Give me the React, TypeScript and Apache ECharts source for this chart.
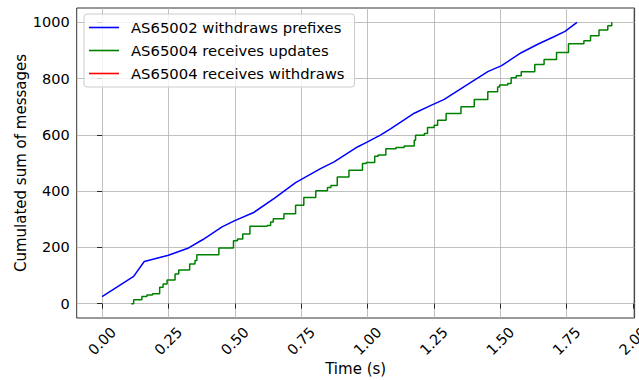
import React, { useEffect, useRef } from "react";
import * as echarts from "echarts";

const seriesNames = [
  "AS65002 withdraws prefixes",
  "AS65004 receives updates",
  "AS65004 receives withdraws",
];

const blueTime = [0, 0.119, 0.159, 0.25, 0.326, 0.38, 0.452, 0.5, 0.571, 0.65, 0.729, 0.823, 0.874, 0.962, 1.0, 1.05, 1.088, 1.176, 1.239, 1.289, 1.37, 1.453, 1.505, 1.579, 1.643, 1.7, 1.744, 1.789];
const blueValue = [25, 97, 150, 172, 198, 228, 273, 295, 324, 375, 430, 480, 504, 557, 575, 600, 622, 677, 705, 726, 775, 825, 846, 892, 923, 948, 968, 1000];

const greenTime = [0.11, 0.119, 0.15, 0.169, 0.19, 0.217, 0.23, 0.245, 0.275, 0.289, 0.33, 0.35, 0.357, 0.44, 0.495, 0.51, 0.53, 0.557, 0.622, 0.635, 0.645, 0.685, 0.729, 0.76, 0.805, 0.849, 0.862, 0.886, 0.93, 0.981, 0.995, 1.027, 1.04, 1.069, 1.107, 1.138, 1.176, 1.181, 1.214, 1.226, 1.251, 1.264, 1.296, 1.352, 1.402, 1.453, 1.49, 1.497, 1.528, 1.541, 1.56, 1.579, 1.63, 1.665, 1.712, 1.757, 1.815, 1.84, 1.872, 1.905, 1.92];
const greenValue = [0, 14, 25, 31, 35, 58, 70, 84, 105, 120, 141, 153, 174, 198, 224, 230, 248, 275, 278, 290, 302, 320, 350, 377, 401, 413, 420, 450, 474, 498, 502, 524, 528, 551, 555, 560, 581, 599, 605, 626, 634, 652, 676, 700, 726, 753, 770, 777, 783, 803, 810, 824, 850, 868, 893, 924, 935, 952, 973, 988, 1000];

const redTime: number[] = [];
const redValue: number[] = [];

const xTicks = [0, 0.25, 0.5, 0.75, 1.0, 1.25, 1.5, 1.75, 2.0];
const yTicks = [0, 200, 400, 600, 800, 1000];

const FONT = "DejaVu Sans";
const FS = 14.5;

const zip = (a: number[], b: number[]) => a.map((v, i) => [v, b[i]]);

export default function App() {
  const ref = useRef<HTMLDivElement>(null);
  useEffect(() => {
    if (!ref.current) return;
    const chart = echarts.init(ref.current, undefined, { renderer: "svg" });
    const axisCommon = {
      axisLine: { show: false },
      axisTick: { show: true, length: 5, lineStyle: { color: "#000", width: 0.8 } },
      splitLine: { show: true, lineStyle: { color: "#b0b0b0", width: 0.8 } },
      nameTextStyle: { fontFamily: FONT, fontSize: 15, color: "#000" },
      nameMoveOverlap: false,
    };
    chart.setOption({
      animation: false,
      backgroundColor: "#fff",
      grid: {
        left: 76.7,
        right: 4.4,
        top: 8,
        bottom: 62,
        containLabel: false,
        outerBoundsMode: "none",
        show: true,
        borderColor: "#000",
        borderWidth: 0.8,
        backgroundColor: "transparent",
      },
      legend: {
        left: 84,
        top: 14,
        orient: "vertical",
        data: seriesNames.map((n) => ({ name: n, icon: "rect" })),
        itemWidth: 30,
        itemHeight: 1.6,
        itemGap: 6,
        padding: [5, 10, 5, 5],
        backgroundColor: "rgba(255,255,255,0.8)",
        borderColor: "#cccccc",
        borderWidth: 1,
        borderRadius: 3,
        textStyle: {
          fontFamily: FONT,
          fontSize: 14.8,
          color: "#000",
          lineHeight: 17,
          padding: [0, 0, 0, 7],
        },
      },
      xAxis: {
        type: "value",
        min: -0.0955,
        max: 2.006,
        name: "Time (s)",
        nameLocation: "middle",
        nameGap: 43,
        ...axisCommon,
        axisTick: { ...axisCommon.axisTick, customValues: xTicks },
        axisLabel: {
          customValues: xTicks,
          rotate: 45,
          align: "center",
          verticalAlign: "middle",
          margin: 23,
          fontFamily: FONT,
          fontSize: FS,
          color: "#000",
          formatter: (v: number) => v.toFixed(2),
        },
      },
      yAxis: {
        type: "value",
        min: -51,
        max: 1051,
        name: "Cumulated sum of messages",
        nameLocation: "middle",
        nameGap: 48,
        ...axisCommon,
        axisTick: { ...axisCommon.axisTick, customValues: yTicks },
        axisLabel: {
          customValues: yTicks,
          margin: 7,
          fontFamily: FONT,
          fontSize: FS,
          color: "#000",
          formatter: (v: number) => String(v),
        },
      },
      series: [
        {
          name: seriesNames[0],
          type: "line",
          data: zip(blueTime, blueValue),
          symbol: "none",
          color: "#0000ff",
          lineStyle: { width: 1.5, color: "#0000ff" },
        },
        {
          name: seriesNames[1],
          type: "line",
          data: zip(greenTime, greenValue),
          step: "end",
          symbol: "none",
          color: "#008000",
          lineStyle: { width: 1.5, color: "#008000" },
        },
        {
          name: seriesNames[2],
          type: "line",
          data: zip(redTime, redValue),
          symbol: "none",
          color: "#ff0000",
          lineStyle: { width: 1.5, color: "#ff0000" },
        },
      ],
    });
    return () => chart.dispose();
  }, []);
  return (
    <div
      ref={ref}
      style={{ position: "fixed", left: 0, top: 0, width: 639, height: 380 }}
    />
  );
}
